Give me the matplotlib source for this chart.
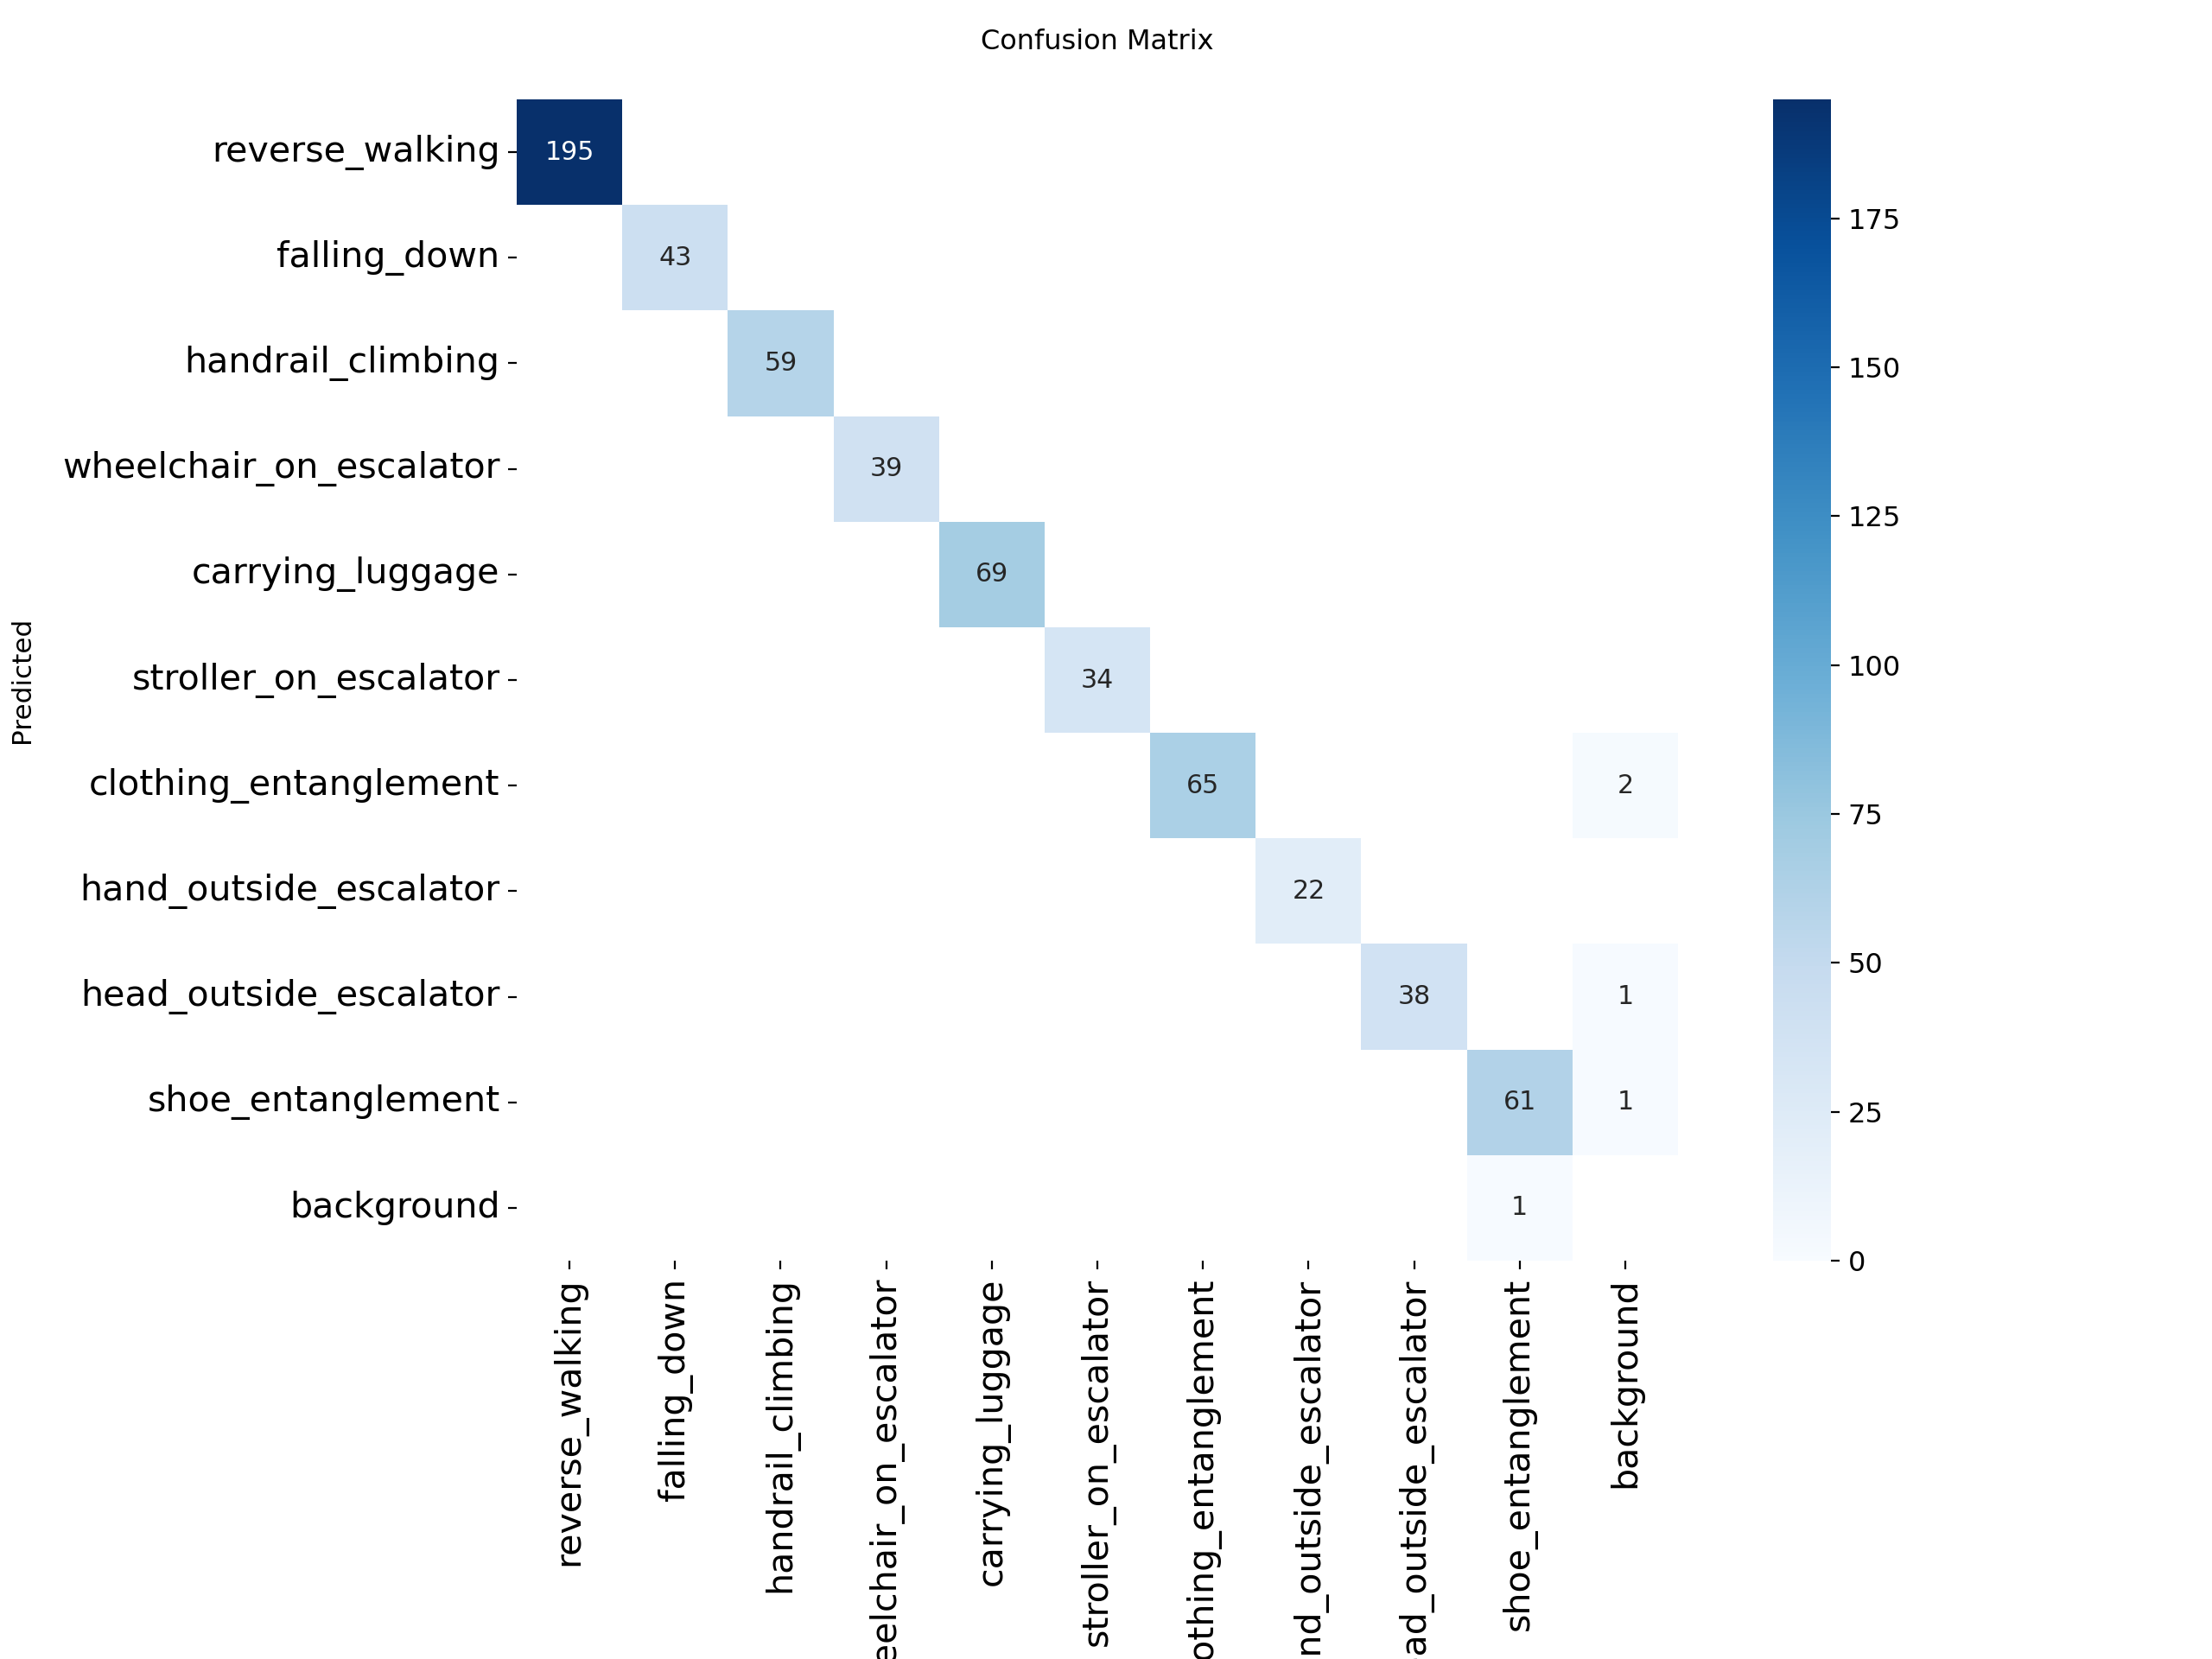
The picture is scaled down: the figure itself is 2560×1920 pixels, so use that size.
# Confusion matrix of escalator behaviour classes (counts, zeros left blank)
import numpy as np
import matplotlib
matplotlib.use('Agg')
from matplotlib import pyplot as plt
import seaborn as sns

# class names, same order for rows (predicted) and columns (true)
names = ['reverse_walking', 'falling_down', 'handrail_climbing', 'wheelchair_on_escalator',
         'carrying_luggage', 'stroller_on_escalator', 'clothing_entanglement',
         'hand_outside_escalator', 'head_outside_escalator', 'shoe_entanglement', 'background']

# diagonal counts (correct predictions)
diag_counts = [195, 43, 59, 39, 69, 34, 65, 22, 38, 61, 0]

# off-diagonal counts as (predicted row, true column, count)
off_rows = [6, 8, 9, 10]
off_cols = [10, 10, 10, 9]
off_counts = [2, 1, 1, 1]

cbar_ticks = [0, 25, 50, 75, 100, 125, 150, 175]

# build the matrix
n = len(names)
cm = np.zeros((n, n))
cm[np.arange(n), np.arange(n)] = diag_counts
cm[off_rows, off_cols] = off_counts
cm[cm < 0.005] = np.nan   # empty cells are not drawn

fig = plt.figure(figsize=(12.8, 9.6), dpi=200)
ax = fig.add_axes([0.2336, 0.2401, 0.525, 0.70])
cax = fig.add_axes([0.8016, 0.2401, 0.0262, 0.70])

sns.heatmap(cm, ax=ax, cbar_ax=cax, annot=True, annot_kws={'size': 10.8},
            cmap='Blues', fmt='.0f', square=False, vmin=0.0,
            xticklabels=names, yticklabels=names)
ax.set_facecolor((1, 1, 1))

ax.tick_params(axis='both', labelsize=14.8)
plt.setp(ax.get_xticklabels(), rotation=90)
plt.setp(ax.get_yticklabels(), rotation=0, va='center')

cax.set_yticks(cbar_ticks)
cax.tick_params(labelsize=11.5)

ax.set_title('Confusion Matrix', fontsize=11.5, pad=21)
ax.set_ylabel('Predicted', fontsize=11.2)
ax.yaxis.set_label_coords(-0.415, 0.5)
ax.set_xlabel('True', fontsize=11.2)

fig.savefig('out.png', dpi=200, facecolor='white')
